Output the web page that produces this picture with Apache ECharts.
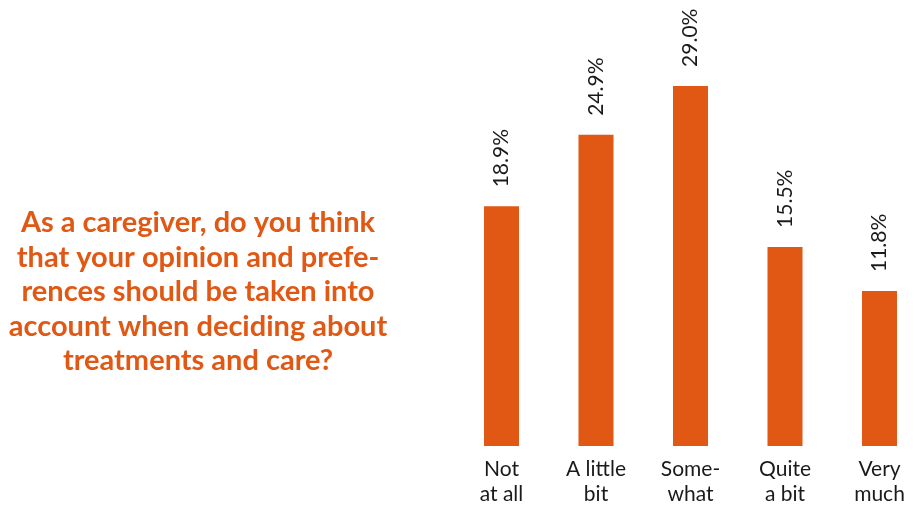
<!DOCTYPE html>
<html>
<head>
<meta charset="utf-8">
<script src="https://cdn.jsdelivr.net/npm/echarts@6/dist/echarts.min.js"></script>
<style>
  html, body { margin: 0; padding: 0; background: #ffffff; }
  #chart { width: 914px; height: 509px; }
</style>
</head>
<body>
<div id="chart"></div>
<script>
// Survey answers and their shares (percent of respondents)
const categories = ['Not\nat all', 'A little\nbit', 'Some-\nwhat', 'Quite\na bit', 'Very\nmuch'];
const shares = [18.9, 24.9, 29.0, 15.5, 11.8];
const question = 'As a caregiver, do you think\nthat your opinion and prefe-\nrences should be taken into\naccount when deciding about\ntreatments and care?';

const ORANGE = '#E05814';

const chart = echarts.init(document.getElementById('chart'), null, { renderer: 'canvas' });

chart.setOption({
  animation: false,
  backgroundColor: '#ffffff',
  graphic: [{
    type: 'text',
    x: 198,
    y: 292,
    style: {
      text: question,
      fill: ORANGE,
      font: 'bold 29px Lato',
      lineHeight: 34.5,
      align: 'center',
      verticalAlign: 'middle'
    }
  }],
  // category points sit on the grid edges so the bars keep an even pitch
  grid: { left: 501.5, top: 74, width: 378, height: 372, containLabel: false },
  xAxis: {
    type: 'category',
    data: categories,
    boundaryGap: false,
    axisLine: { show: false },
    axisTick: { show: false },
    axisLabel: {
      margin: 11,
      color: '#1a1a1a',
      fontFamily: 'Lato',
      fontSize: 21,
      lineHeight: 25,
      interval: 0
    }
  },
  yAxis: {
    type: 'value',
    min: -1.2,
    max: 30,
    startValue: -1.2,
    show: false,
    splitLine: { show: false }
  },
  series: [{
    type: 'bar',
    data: shares,
    barWidth: 35,
    itemStyle: { color: ORANGE },
    label: {
      show: true,
      position: 'top',
      distance: 19,
      rotate: 90,
      align: 'left',
      verticalAlign: 'middle',
      color: '#1a1a1a',
      fontFamily: 'Lato',
      fontSize: 21,
      formatter: p => p.value.toFixed(1) + '%'
    }
  }]
});
</script>
</body>
</html>
